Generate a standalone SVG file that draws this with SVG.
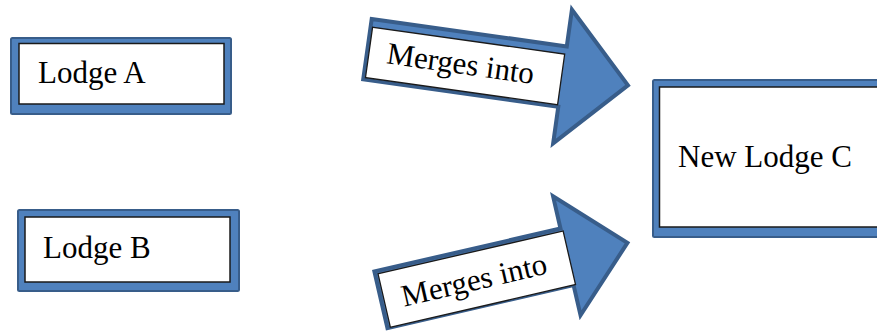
<svg xmlns="http://www.w3.org/2000/svg" width="877" height="331" viewBox="0 0 877 331">
<defs>
<style>
.frame{fill:#4f81bd;stroke:#385d8a;stroke-width:2}
.inner{fill:#ffffff;stroke:#1a1a1a;stroke-width:1.5}
.arrow{fill:#4f81bd;stroke:#385d8a;stroke-width:4;stroke-linejoin:miter}
.tbox{fill:#ffffff;stroke:#1a1a1a;stroke-width:1.3}
.lbl{font-family:"Liberation Serif","Times New Roman",serif;font-size:31px;fill:#000}
</style>
</defs>
<rect width="877" height="331" fill="#ffffff"/>
<g id="lodge-a">
<rect class="frame" x="11" y="38" width="220" height="76" rx="1.5"/>
<rect class="inner" x="19" y="43.5" width="205" height="60.5"/>
<text class="lbl" x="38" y="83">Lodge A</text>
</g>
<g id="lodge-b">
<rect class="frame" x="18" y="210" width="221" height="81" rx="1.5"/>
<rect class="inner" x="25" y="217" width="205" height="65"/>
<text class="lbl" x="43" y="258">Lodge B</text>
</g>
<g id="lodge-c">
<rect class="frame" x="653" y="80" width="230" height="157" rx="1.5"/>
<rect class="inner" x="659.5" y="87" width="230" height="140"/>
<text class="lbl" x="678" y="167">New Lodge C</text>
</g>
<g id="connectors">
<g id="arrow-1" transform="translate(370,16.7) rotate(8)">
<polygon class="arrow" points="2,2 199,2 199,-35 265,32 199,100 199,63 2,63"/>
<rect class="tbox" x="4" y="10" width="194" height="51"/>
<text class="lbl" x="22" y="44">Merges into</text>
</g>
<g id="arrow-2" transform="translate(372,270) rotate(-13)">
<polygon class="arrow" points="2,2 193,2 193,-31 255,31 193,91 193,60 2,60"/>
<rect class="tbox" x="5" y="5" width="190" height="55"/>
<text class="lbl" x="23" y="43">Merges into</text>
</g>
</g>
</svg>
